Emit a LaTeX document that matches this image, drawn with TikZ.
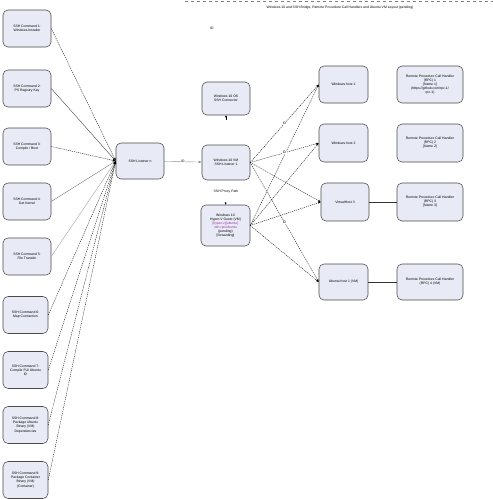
\documentclass[tikz,border=0pt]{standalone}
\usepackage{fontspec}
\setmainfont{Liberation Sans}
\usetikzlibrary{arrows.meta,positioning}
\definecolor{boxfill}{HTML}{E8EBF5}
\definecolor{boxline}{HTML}{4A4A4A}
\definecolor{vmtext}{HTML}{9A2C9E}
\newcommand{\tinytext}{\fontsize{3.4}{4.1}\selectfont}

\begin{document}
\begin{tikzpicture}[x=1pt, y=-1pt,
    box node/.style={draw=boxline, fill=boxfill, rounded corners=5pt, line width=0.55pt, align=center, font=\tinytext, inner sep=1pt},
    cmd node/.style={box node, minimum height=37pt},
    mid node/.style={box node, minimum width=48pt},
    host node/.style={box node, minimum width=49pt, minimum height=37pt},
    rpc node/.style={box node, minimum width=66pt, minimum height=37pt},
    finedash/.style={dash pattern=on 1.2pt off 0.9pt},
    cmd link/.style={line width=0.35pt, -{Latex[length=3pt,width=2.4pt]}},
    id link/.style={line width=0.4pt, draw=black!45, -{Latex[length=3pt,width=2.4pt]}},
    host link/.style={line width=0.35pt, finedash, -{Latex[length=2.5pt,width=2pt]}},
    id label/.style={font=\tinytext, fill=white, inner sep=0.5pt},
    rpc link/.style={line width=0.5pt, draw=black!80}
]
\useasboundingbox (0,0) rectangle (493,499);

%================HEADER================
\draw[gray, dashed, line width=0.3pt] (185,1) -- (493,1);
\node[font=\tinytext] (title) at (340,8) {Windows 10 and SSH Bridge, Remote Procedure Call Handlers and Ubuntu VM Layout (pending)};
\node[font=\tinytext] (stray) at (212,28) {ID};

%================LISTENER================
\node[mid node, minimum height=36pt] (listener) at (140,161) {SSH Listener n};

% --- left column: ssh commands ---
\foreach \yy/\ww/\txt/\ln/\lc [count=\c] in {
    28.5/48/{SSH Command 1:\\ Windows Installer}/finedash/black,
    88.5/48/{SSH Command 2:\\ PS Registry Key}/solid/black!80,
    146.5/48/{SSH Command 3:\\ Compile / Boot}/finedash/black,
    201.5/48/{SSH Command 4:\\ Get Kernel}/solid/black!60,
    256.5/48/{SSH Command 5:\\ File Transfer}/solid/black!40,
    315/45/{SSH Command 6:\\ Map Connection}/finedash/black,
    370/45/{SSH Command 7:\\ Compile Full Ubuntu\\ ID}/finedash/black,
    425/45/{SSH Command 8:\\ Package Ubuntu\\ Binary (VM)\\ Dependencies}/finedash/black,
    480/45/{SSH Command 9:\\ Package Container\\ Binary (VM)\\ (Container)}/finedash/black} {
    \pgfmathsetmacro{\xx}{3 + \ww/2}
    \node[cmd node, minimum width=\ww pt] (cmd\c) at (\xx, \yy) {\txt};
    \draw[cmd link, \ln, draw=\lc] (cmd\c.east) -- (listener.west);
}

%================WINDOWS 10================
\node[mid node, minimum height=33pt] (winA) at (226,98.5) {Windows 10 OS\\ SSH Connector};
\node[mid node, minimum height=35pt] (winB) at (226,162.5) {Windows 10 VM\\ SSH Listener 1};
\node[mid node, minimum width=49pt, minimum height=41pt] (winC) at (225.5,225.5) {Windows 10\\ Hyper-V Guest (VM)\\ \textcolor{vmtext}{[hyper-v]\{ubuntu\}}\\ \textcolor{vmtext}{ssh-rpc/ubuntu}\\ (pending)\\ {[forwarding]}};
\node[font=\tinytext] (proxy) at (226,192) {SSH Proxy Path};
\coordinate (aTip) at (226,120);

\draw[id link] (listener) -- node[id label] {ID} (winB);
\draw[-{Latex[length=2pt,width=2pt]}, line width=0.3pt] (aTip) -- (winA.south);
\draw[-{Latex[length=2pt,width=2pt]}, line width=0.3pt, shorten <=5pt] (proxy.south) -- (winC.north);

%================HOSTS AND RPC================
\node[host node] (host1) at (343.5,84.5) {Windows host 1};
\node[host node, minimum height=38pt] (host2) at (343.5,143) {Windows host 2};
\node[host node, minimum width=48pt, minimum height=38pt] (host3) at (345,202) {VirtualHost 3};
\node[host node, minimum height=36pt] (host4) at (343.5,282) {Ubuntu host 1 (VM)};

\node[rpc node] (rpc1) at (430,84.5) {Remote Procedure Call Handler\\ (RPC) 1\\ {[Name 1]}\\ (https://github.com/rpc-1/\\ rpc-1)};
\node[rpc node, minimum height=38pt] (rpc2) at (430,143) {Remote Procedure Call Handler\\ (RPC) 2\\ {[Name 2]}};
\node[rpc node, minimum height=38pt] (rpc3) at (430,202) {Remote Procedure Call Handler\\ (RPC) 3\\ {[Name 3]}};
\node[rpc node, minimum height=36pt] (rpc4) at (430,282) {Remote Procedure Call Handler\\ (RPC) 4 (VM)};

\foreach \h in {1,...,4} {
    \ifnum\h=3
        \draw[host link] (winB.east) -- (host\h.west);
    \else
        \draw[host link] (winB.east) -- node[id label] {ID} (host\h.west);
    \fi
    \draw[host link] (winC.east) -- (host\h.west);
}

\draw[rpc link] (host3) -- (rpc3);
\draw[rpc link] (host4) -- (rpc4);

\end{tikzpicture}
\end{document}
